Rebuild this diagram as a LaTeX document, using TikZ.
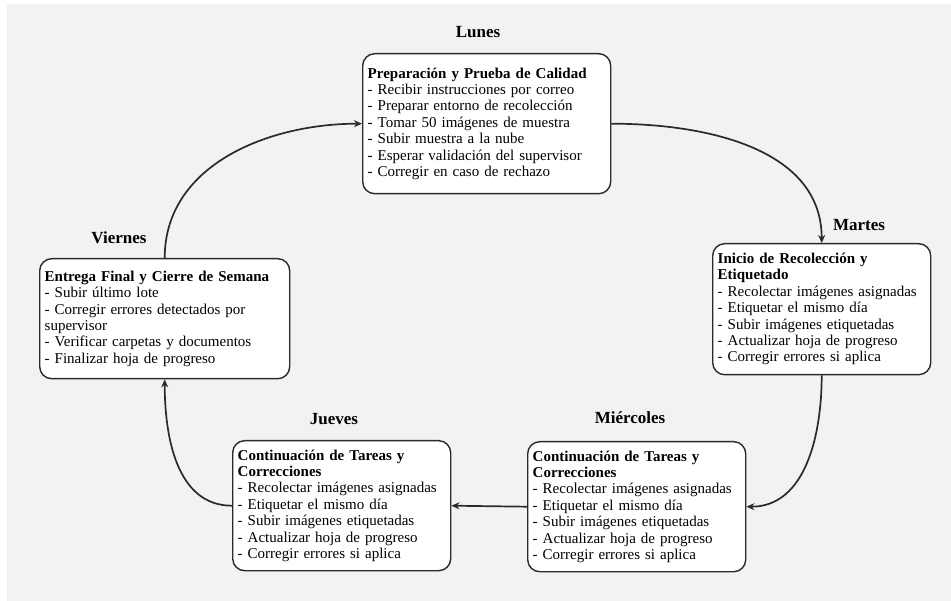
\documentclass[tikz,border=0pt]{standalone}
\usepackage{fontspec}
\setmainfont{Liberation Serif}
\usetikzlibrary{arrows.meta}
\definecolor{bggray}{HTML}{F2F2F2}
\definecolor{linecol}{HTML}{2A2A2A}
\tikzset{
  daybox/.style={draw=linecol, fill=white, line width=1.4pt, rounded corners=12pt,
    align=left, anchor=north west, inner xsep=5pt, inner ysep=4pt,
    font=\fontsize{15}{16.4}\selectfont},
  daylabel/.style={font=\fontsize{17}{20}\selectfont\bfseries, text=black},
  flow/.style={draw=linecol, line width=1.7pt, -{Stealth[length=8pt,width=7pt]}}
}
\begin{document}
\begin{tikzpicture}[x=1pt,y=-1pt]
\useasboundingbox (0,0) rectangle (951,601);
\fill[bggray] (7,4) rectangle (951,601);

\node[daybox, text width=238pt, minimum height=140pt] (lun) at (362,53)
 {\textbf{Preparación y Prueba de Calidad}\\
  - Recibir instrucciones por correo\\
  - Preparar entorno de recolección\\
  - Tomar 50 imágenes de muestra\\
  - Subir muestra a la nube\\
  - Esperar validación del supervisor\\
  - Corregir en caso de rechazo};

\node[daybox, text width=208pt, minimum height=131pt] (mar) at (712,243)
 {\textbf{Inicio de Recolección y}\\
  \textbf{Etiquetado}\\
  - Recolectar imágenes asignadas\\
  - Etiquetar el mismo día\\
  - Subir imágenes etiquetadas\\
  - Actualizar hoja de progreso\\
  - Corregir errores si aplica};

\node[daybox, text width=208pt, minimum height=130pt] (mie) at (527,441)
 {\textbf{Continuación de Tareas y}\\
  \textbf{Correcciones}\\
  - Recolectar imágenes asignadas\\
  - Etiquetar el mismo día\\
  - Subir imágenes etiquetadas\\
  - Actualizar hoja de progreso\\
  - Corregir errores si aplica};

\node[daybox, text width=208pt, minimum height=130pt] (jue) at (232,440)
 {\textbf{Continuación de Tareas y}\\
  \textbf{Correcciones}\\
  - Recolectar imágenes asignadas\\
  - Etiquetar el mismo día\\
  - Subir imágenes etiquetadas\\
  - Actualizar hoja de progreso\\
  - Corregir errores si aplica};

\node[daybox, text width=240pt, minimum height=120pt] (vie) at (39,258)
 {\textbf{Entrega Final y Cierre de Semana}\\
  - Subir último lote\\
  - Corregir errores detectados por\\
  supervisor\\
  - Verificar carpetas y documentos\\
  - Finalizar hoja de progreso};

\node[daylabel] (llun) at (478,32) {Lunes};
\node[daylabel] (lmar) at (859,225) {Martes};
\node[daylabel] (lmie) at (630,418) {Miércoles};
\node[daylabel] (ljue) at (334,419) {Jueves};
\node[daylabel] (lvie) at (119,238) {Viernes};

\draw[flow] (lun.east) to[out=0,in=90] (mar.north);
\draw[flow] (mar.south) to[out=-90,in=0] (mie.east);
\draw[flow] (mie.west) -- (jue.east);
\draw[flow] (jue.west) to[out=180,in=-90] (vie.south);
\draw[flow] (vie.north) to[out=90,in=180] (lun.west);
\end{tikzpicture}
\end{document}
